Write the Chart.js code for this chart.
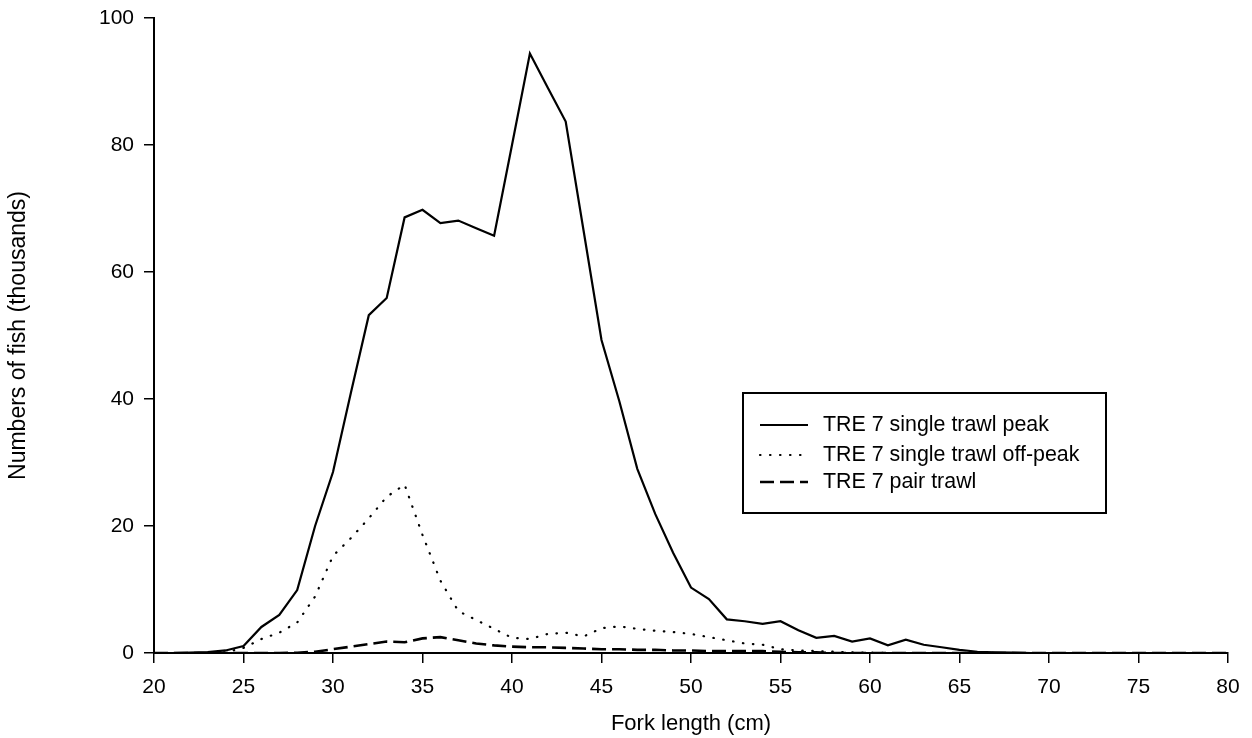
<!DOCTYPE html>
<html>
<head>
<meta charset="utf-8">
<script src="https://cdn.jsdelivr.net/npm/chart.js@4.4.1/dist/chart.umd.min.js"></script>
<style>
  html, body { margin: 0; padding: 0; background: #fff; }
  #wrap { width: 1252px; height: 738px; position: relative; }
</style>
</head>
<body>
<div id="wrap"><canvas id="lfChart"></canvas></div>
<script>
// Fork length classes (cm)
const lengths = [20, 21, 22, 23, 24, 25, 26, 27, 28, 29,
  30, 31, 32, 33, 34, 35, 36, 37, 38, 39,
  40, 41, 42, 43, 44, 45, 46, 47, 48, 49,
  50, 51, 52, 53, 54, 55, 56, 57, 58, 59,
  60, 61, 62, 63, 64, 65, 66, 67, 68, 69,
  70, 71, 72, 73, 74, 75, 76, 77, 78, 79, 80];

// Numbers of fish (thousands)
const singlePeak = [0, 0, 0.05, 0.15, 0.4, 1.1, 4.1, 6.0, 9.9, 20.0,
  28.5, 41, 53.2, 55.9, 68.6, 69.8, 67.7, 68.1, 66.9, 65.7,
  80, 94.4, 89, 83.7, 66.5, 49.3, 39.6, 29, 21.9, 15.8,
  10.3, 8.5, 5.3, 5.0, 4.6, 5.0, 3.6, 2.4, 2.7, 1.8,
  2.3, 1.2, 2.1, 1.3, 0.9, 0.5, 0.2, 0.1, 0.05, 0,
  0, 0, 0, 0, 0, 0, 0, 0, 0, 0, 0];

const singleOffPeak = [0, 0, 0, 0, 0.1, 0.8, 2.2, 3.2, 4.8, 8.9,
  15.3, 18.1, 21.2, 24.6, 26.5, 18.6, 11.4, 6.6, 5.2, 3.8,
  2.4, 2.2, 3.0, 3.2, 2.6, 3.9, 4.2, 3.8, 3.5, 3.3,
  3.0, 2.5, 2.0, 1.5, 1.3, 0.6, 0.4, 0.3, 0.2, 0.1,
  0.05, 0, 0, 0, 0, 0, 0, 0, 0, 0,
  0, 0, 0, 0, 0, 0, 0, 0, 0, 0, 0];

const pairTrawl = [0, 0, 0, 0, 0, 0, 0, 0, 0.05, 0.2,
  0.6, 1.0, 1.4, 1.8, 1.7, 2.3, 2.5, 2.0, 1.5, 1.2,
  1.0, 0.9, 0.9, 0.8, 0.7, 0.6, 0.6, 0.5, 0.5, 0.4,
  0.4, 0.3, 0.3, 0.3, 0.3, 0.2, 0.1, 0.1, 0, 0,
  0, 0, 0, 0, 0, 0, 0, 0, 0, 0,
  0, 0, 0, 0, 0, 0, 0, 0, 0, 0, 0];

const seriesNames = ["TRE 7 single trawl peak", "TRE 7 single trawl off-peak", "TRE 7 pair trawl"];
const yTicks = [0, 20, 40, 60, 80, 100];
const xTicks = [20, 25, 30, 35, 40, 45, 50, 55, 60, 65, 70, 75, 80];

const FONT = "'Liberation Sans', Arial, Helvetica, sans-serif";

function toPoints(values) {
  return values.map((v, i) => ({ x: lengths[i], y: v }));
}

// Legend box drawn inside the plot area
const boxLegend = {
  id: "boxLegend",
  afterDraw(chart) {
    const ctx = chart.ctx;
    const area = chart.chartArea;
    const left = area.left + 589;
    const top = area.top + 375;
    const w = 363, h = 120;
    ctx.save();
    ctx.strokeStyle = "#000";
    ctx.lineWidth = 2;
    ctx.strokeRect(left, top, w, h);
    ctx.font = "21.4px " + FONT;
    ctx.fillStyle = "#000";
    ctx.textBaseline = "middle";
    const rows = [32, 62, 89];
    chart.data.datasets.forEach((ds, i) => {
      const y = top + rows[i];
      ctx.beginPath();
      ctx.setLineDash(ds.borderDash || []);
      ctx.lineCap = ds.borderCapStyle || "butt";
      ctx.lineWidth = ds.borderWidth;
      ctx.moveTo(left + 17, y);
      ctx.lineTo(left + 65, y);
      ctx.stroke();
      ctx.setLineDash([]);
      ctx.fillText(ds.label, left + 80, y);
    });
    ctx.restore();
  }
};

const ctx = document.getElementById("lfChart").getContext("2d");
const lfChart = new Chart(ctx, {
  type: "line",
  data: {
    datasets: [
      {
        label: seriesNames[0],
        data: toPoints(singlePeak),
        borderColor: "#000",
        borderWidth: 2.2,
        pointRadius: 0,
        tension: 0
      },
      {
        label: seriesNames[1],
        data: toPoints(singleOffPeak),
        borderColor: "#000",
        borderWidth: 2.2,
        borderDash: [0.5, 9.5],
        borderCapStyle: "round",
        pointRadius: 0,
        tension: 0
      },
      {
        label: seriesNames[2],
        data: toPoints(pairTrawl),
        borderColor: "#000",
        borderWidth: 2.6,
        borderDash: [14, 6],
        pointRadius: 0,
        tension: 0
      }
    ]
  },
  options: {
    responsive: true,
    maintainAspectRatio: false,
    animation: false,
    layout: { padding: { top: 18, right: 24, left: 0, bottom: 0 } },
    plugins: {
      legend: { display: false },
      tooltip: { enabled: false }
    },
    scales: {
      x: {
        type: "linear",
        min: 20,
        max: 80,
        afterFit: (scale) => { scale.height = 85; scale.paddingLeft = 0; scale.paddingRight = 0; },
        afterBuildTicks: (scale) => { scale.ticks = xTicks.map(v => ({ value: v })); },
        grid: { drawOnChartArea: false, drawTicks: true, tickLength: 10, color: "#000", lineWidth: 1.5 },
        border: { display: true, color: "#000", width: 2 },
        ticks: { color: "#000", font: { family: FONT, size: 21 }, padding: 12, maxRotation: 0 },
        title: {
          display: true,
          text: "Fork length (cm)",
          color: "#000",
          font: { family: FONT, size: 22 },
          padding: { top: 0, bottom: 1 }
        }
      },
      y: {
        min: 0,
        max: 100,
        afterFit: (scale) => { scale.width = 154; scale.paddingTop = 0; scale.paddingBottom = 0; },
        afterBuildTicks: (scale) => { scale.ticks = yTicks.map(v => ({ value: v })); },
        grid: { drawOnChartArea: false, drawTicks: true, tickLength: 10, color: "#000", lineWidth: 1.5 },
        border: { display: true, color: "#000", width: 2 },
        ticks: { color: "#000", font: { family: FONT, size: 21 }, padding: 10 },
        title: {
          display: true,
          text: "Numbers of fish (thousands)",
          color: "#000",
          font: { family: FONT, size: 23 },
          padding: { top: 5, bottom: 0 }
        }
      }
    }
  },
  plugins: [boxLegend]
});
</script>
</body>
</html>
